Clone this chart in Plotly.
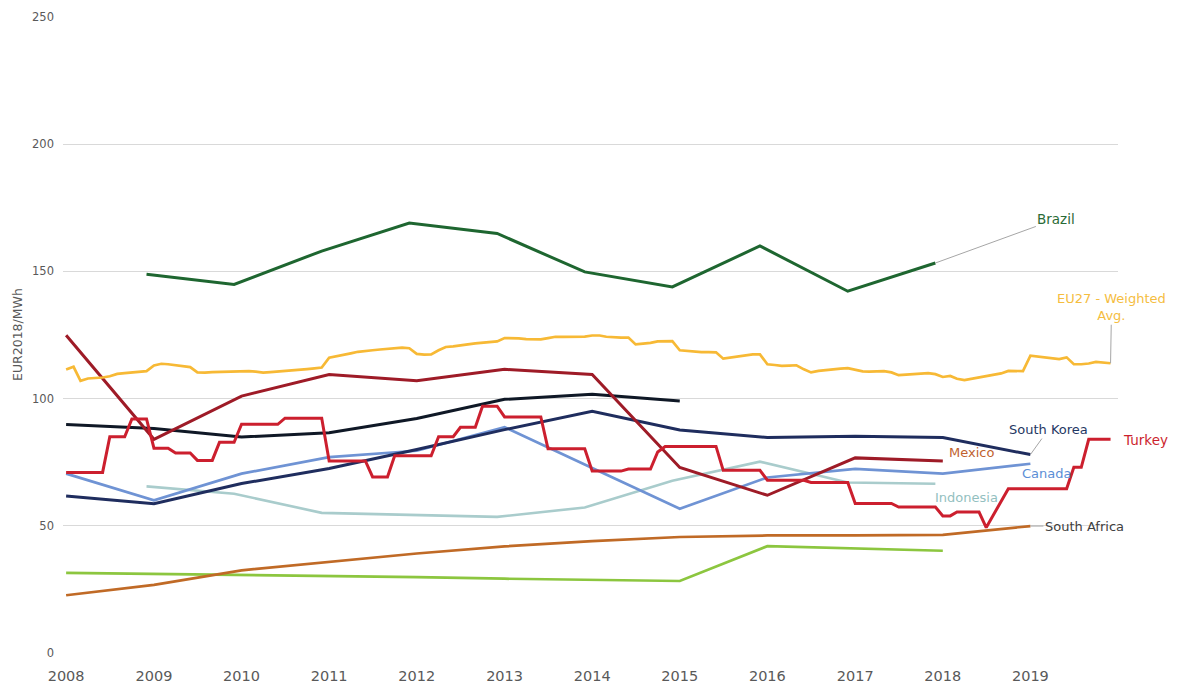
import plotly.graph_objects as go
import pandas as pd

# ---------------- data ----------------
YEARS = [str(y) for y in range(2008, 2020)]
YEAR_DATES = [f"{y}-01-01" for y in range(2008, 2020)]
DEC_DATES = [f"{y}-12-01" for y in range(2008, 2018)]   # series reported in December of previous year
MONTHS = pd.date_range("2008-01-01", periods=144, freq="MS")

brazil = [148.9, 144.9, 158.0, 169.0, 164.9, 149.8, 143.9, 160.0, 142.2, 153.3]
indonesia = [65.5, 62.6, 55.1, 54.2, 53.5, 57.2, 67.7, 75.2, 67.0, 66.5]

mexico = [124.9, 84.0, 101.0, 109.5, 107.0, 111.5, 109.5, 72.9, 62.0, 76.7, 75.5]
other_black = [89.8, 88.2, 84.9, 86.6, 92.2, 99.7, 101.7, 99.1]
south_korea = [61.7, 58.7, 66.6, 72.5, 80.0, 87.8, 95.0, 87.7, 84.7, 85.2, 84.7, 78.0]
canada = [70.5, 60.0, 70.5, 77.0, 79.5, 88.8, 72.7, 56.7, 69.0, 72.4, 70.5, 74.4]
south_africa = [22.7, 26.8, 32.5, 35.9, 39.1, 41.9, 44.0, 45.6, 46.2, 46.2, 46.4, 49.9]
other_green = [31.5, 31.1, 30.8, 30.3, 29.8, 29.2, 28.7, 28.3, 42.0, 41.0, 40.2]

eu27 = [
    111.4, 112.5, 107.0, 107.9, 108.1, 108.3, 108.8, 109.7, 110.0, 110.3, 110.5, 110.8,
    113.0, 113.7, 113.5, 113.1, 112.7, 112.4, 110.3, 110.2, 110.4, 110.5, 110.6, 110.6,
    110.7, 110.8, 110.6, 110.2, 110.4, 110.6, 110.8, 111.1, 111.4, 111.6, 111.9, 112.2,
    116.1, 116.6, 117.2, 117.8, 118.4, 118.6, 119.0, 119.3, 119.5, 119.7, 120.0, 119.8,
    117.6, 117.3, 117.4, 119.0, 120.3, 120.5, 121.0, 121.3, 121.7, 122.0, 122.2, 122.5,
    123.8, 123.9, 123.7, 123.4, 123.3, 123.3, 123.8, 124.3, 124.3, 124.3, 124.3, 124.4,
    124.8, 124.8, 124.3, 124.0, 124.0, 124.0, 121.3, 121.6, 121.9, 122.5, 122.6, 122.6,
    119.0, 118.7, 118.4, 118.3, 118.3, 118.2, 115.7, 116.2, 116.7, 117.2, 117.4, 117.4,
    113.5, 113.2, 112.9, 113.0, 113.1, 111.5, 110.3, 110.9, 111.3, 111.6, 111.8, 112.0,
    111.4, 110.7, 110.6, 110.7, 110.8, 110.3, 109.2, 109.4, 109.6, 109.8, 110.0, 109.6,
    108.5, 108.9, 107.8, 107.3, 107.8, 108.3, 108.8, 109.4, 109.9, 110.9, 110.9, 110.8,
    116.9, 116.5, 116.2, 115.7, 115.5, 116.2, 113.5, 113.5, 113.8, 114.4, 114.1, 113.9,
]

turkey = [
    71.0, 71.0, 71.0, 71.0, 71.0, 71.0, 85.0, 85.0, 85.0, 92.0, 92.0, 92.0,
    80.5, 80.5, 80.5, 78.6, 78.6, 78.6, 75.7, 75.7, 75.7, 82.8, 82.8, 82.8,
    89.9, 89.9, 89.9, 89.9, 89.9, 89.9, 92.3, 92.3, 92.3, 92.3, 92.3, 92.3,
    75.5, 75.5, 75.5, 75.5, 75.5, 75.5, 69.2, 69.2, 69.2, 77.5, 77.5, 77.5,
    77.5, 77.5, 77.5, 85.0, 85.0, 85.0, 88.7, 88.7, 88.7, 97.0, 97.0, 97.0,
    92.8, 92.8, 92.8, 92.8, 92.8, 92.8, 80.3, 80.3, 80.3, 80.3, 80.3, 80.3,
    71.5, 71.5, 71.5, 71.5, 71.5, 72.3, 72.3, 72.3, 72.3, 79.0, 81.2, 81.2,
    81.2, 81.2, 81.2, 81.2, 81.2, 81.2, 71.8, 71.8, 71.8, 71.8, 71.8, 71.8,
    67.9, 67.9, 67.9, 67.9, 67.9, 67.9, 67.0, 67.0, 67.0, 67.0, 67.0, 67.0,
    58.8, 58.8, 58.8, 58.8, 58.8, 58.8, 57.4, 57.4, 57.4, 57.4, 57.4, 57.4,
    53.9, 53.9, 55.4, 55.4, 55.4, 55.4, 49.3, 54.4, 59.5, 64.6, 64.6, 64.6,
    64.6, 64.6, 64.6, 64.6, 64.6, 64.6, 73.0, 73.0, 84.0, 84.0, 84.0, 84.0,
]

Y_TICKS = [0, 50, 100, 150, 200, 250]
Y_TITLE = "EUR2018/MWh"

# ---------------- figure ----------------
FONT = "DejaVu Sans"
fig = go.Figure()

def add(x, y, color, width):
    fig.add_trace(go.Scatter(x=list(x), y=y, mode="lines",
                             line=dict(color=color, width=width),
                             showlegend=False, hoverinfo="skip"))

add(YEAR_DATES[:len(other_green)], other_green, "#8cc63f", 2.7)
add(YEAR_DATES, south_africa, "#c06a26", 2.7)
add(DEC_DATES, indonesia, "#a9cccc", 2.6)
add(YEAR_DATES, canada, "#6f93d4", 2.7)
add(YEAR_DATES, south_korea, "#1f2d5e", 3)
add(YEAR_DATES[:len(other_black)], other_black, "#0f1826", 3)
add(YEAR_DATES[:len(mexico)], mexico, "#9e1b27", 3)
add(MONTHS, eu27, "#f7b935", 2.7)
add(DEC_DATES, brazil, "#1e6630", 3)
add(MONTHS, turkey, "#cc1f2e", 3)

GRAY = "#a6a6a6"
ann = []
ann.append(dict(x=DEC_DATES[-1], y=brazil[-1], text="Brazil", showarrow=True, arrowhead=0,
                arrowwidth=1, arrowcolor=GRAY, ax=121, ay=-44,
                font=dict(family=FONT, size=13.5, color="#2a6b36")))
ann.append(dict(x=MONTHS[-1], y=eu27[-1], text="EU27 - Weighted<br>Avg.", showarrow=True,
                arrowhead=0, arrowwidth=1, arrowcolor=GRAY, ax=1, ay=-56, align="center",
                font=dict(family=FONT, size=13, color="#f5bd3f")))
ann.append(dict(x=YEAR_DATES[-1], y=south_korea[-1], text="South Korea", showarrow=True,
                arrowhead=0, arrowwidth=1, arrowcolor=GRAY, ax=18, ay=-25,
                font=dict(family=FONT, size=13, color="#1f3864")))
ann.append(dict(x=YEAR_DATES[-1], y=south_africa[-1], text="South Africa", showarrow=True,
                arrowhead=0, arrowwidth=1, arrowcolor=GRAY, ax=54, ay=0,
                font=dict(family=FONT, size=13, color="#404040")))
ann.append(dict(x=YEAR_DATES[len(mexico) - 1], y=mexico[-1], text="Mexico", showarrow=False,
                xanchor="left", xshift=4, yshift=8,
                font=dict(family=FONT, size=13, color="#c0622f")))
ann.append(dict(x=YEAR_DATES[-1], y=canada[-1], text="Canada", showarrow=False,
                xanchor="left", xshift=-10, yshift=-10,
                font=dict(family=FONT, size=13, color="#5b8ed6")))
ann.append(dict(x=DEC_DATES[-1], y=indonesia[-1], text="Indonesia", showarrow=False,
                xanchor="left", xshift=-2, yshift=-14,
                font=dict(family=FONT, size=13, color="#93bfbf")))
ann.append(dict(x=MONTHS[-1], y=turkey[-1], text="Turkey", showarrow=False,
                xanchor="left", xshift=10, yshift=-1,
                font=dict(family=FONT, size=13.5, color="#cc1f2e")))
ann.append(dict(xref="paper", x=0, yref="y", y=125, text=Y_TITLE, textangle=-90,
                showarrow=False, xanchor="center", xshift=-46,
                font=dict(family=FONT, size=12.5, color="#595959")))

# page body has an 8px margin: margins compensate so the plot lands where the reference has it
fig.update_layout(
    width=1178, height=688,
    margin=dict(l=55, r=68, t=9, b=43, autoexpand=False),
    paper_bgcolor="white", plot_bgcolor="white",
    annotations=ann,
    font=dict(family=FONT, color="#595959"),
)
fig.update_xaxes(
    type="date", range=["2007-12-19", "2020-01-01"],
    tickvals=YEAR_DATES, ticktext=YEARS, automargin=False,
    showgrid=False, zeroline=False, showline=False, ticks="",
    tickfont=dict(family=FONT, size=14.5, color="#595959"),
    ticklabelstandoff=12,
)
fig.update_yaxes(
    range=[0, 250], tickvals=Y_TICKS, automargin=False,
    showgrid=True, gridcolor="#d9d9d9", gridwidth=1,
    zeroline=False, showline=False, ticks="",
    tickfont=dict(family=FONT, size=11.5, color="#595959"),
    ticklabelstandoff=8,
)

fig.write_html("out.html")
